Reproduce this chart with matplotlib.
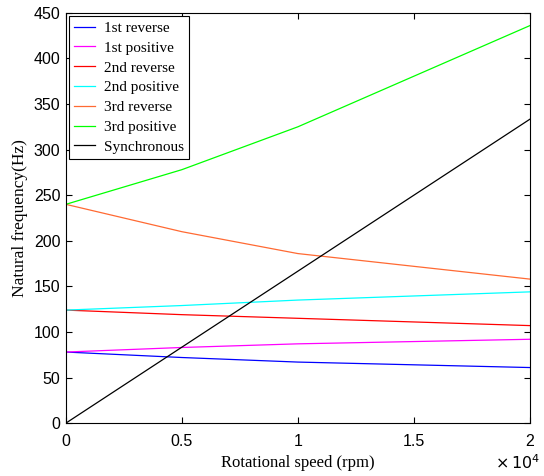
import numpy as np
import matplotlib.pyplot as plt
from matplotlib.ticker import FuncFormatter

# rotational speed (rpm) and natural frequencies (Hz)
speed = [0, 5000, 10000, 20000]
rev1 = [78, 72, 67, 61]
pos1 = [78, 83, 87, 92]
rev2 = [124, 119, 115, 107]
pos2 = [124, 129, 135, 144]
rev3 = [240, 210, 186, 158]
pos3 = [240, 278, 325, 436]
sync = [0, 5000 / 60, 10000 / 60, 20000 / 60]

names = ['1st reverse', '1st positive', '2nd reverse', '2nd positive',
         '3rd reverse', '3rd positive', 'Synchronous']
colors = ['#0000ff', '#ff00ff', '#ff0000', '#00ffff', '#ff6a33', '#00ff00', '#000000']

fig = plt.figure(figsize=(5.44, 4.76), dpi=100)
ax = fig.add_axes([0.121, 0.111, 0.853, 0.862])

for y, c, n in zip([rev1, pos1, rev2, pos2, rev3, pos3, sync], colors, names):
    ax.plot(speed, y, color=c, lw=0.9, label=n)

ax.set_xlim(0, 20000)
ax.set_ylim(0, 450)
ax.set_xticks([0, 5000, 10000, 15000, 20000])
ax.set_yticks(np.arange(0, 451, 50))
ax.xaxis.set_major_formatter(FuncFormatter(lambda v, p: '%g' % (v / 1e4)))
ax.tick_params(direction='in', top=True, right=True, length=4, width=0.8,
               labelsize=11.5)
ax.tick_params(axis='x', pad=8)
ax.tick_params(axis='y', pad=4)
for lab in ax.get_xticklabels() + ax.get_yticklabels():
    lab.set_family('Liberation Sans')
for s in ax.spines.values():
    s.set_linewidth(0.8)

fig.text(0.993, 0.008, r'$\times\,10^4$', ha='right', va='bottom',
         fontsize=11.5, family='Liberation Sans', math_fontfamily='custom')

ax.set_xlabel('Rotational speed (rpm)', family='Liberation Serif', fontsize=12, labelpad=4)
ax.set_ylabel('Natural frequency(Hz)', family='Liberation Serif', fontsize=12.5, labelpad=4)

leg = ax.legend(loc='upper left', prop={'family': 'Liberation Serif', 'size': 11},
                fancybox=False, edgecolor='black', framealpha=1,
                handlelength=1.35, handletextpad=0.6, borderpad=0.35,
                borderaxespad=0.2, labelspacing=0.4)
leg.get_frame().set_linewidth(0.8)

fig.savefig('out.png', dpi=100)
